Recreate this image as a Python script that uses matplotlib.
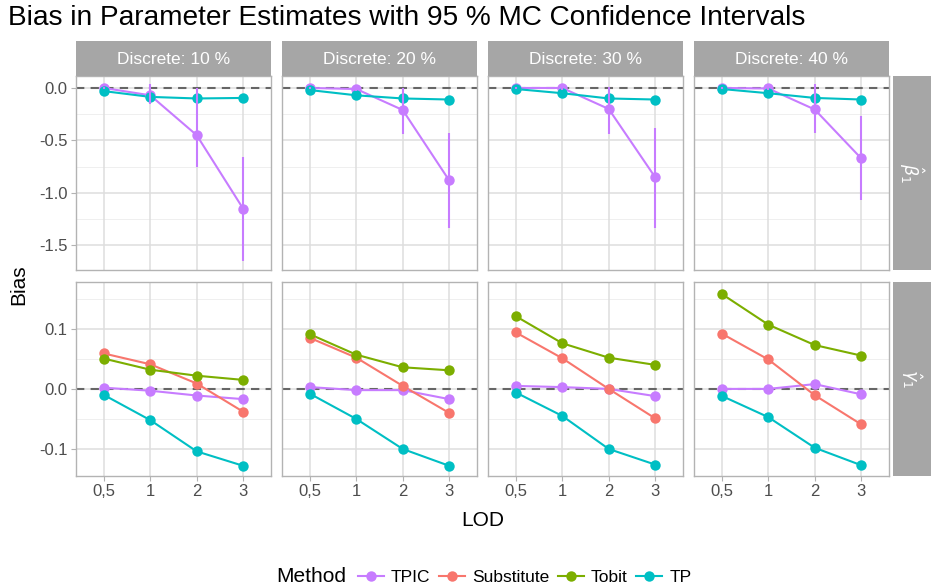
import matplotlib
matplotlib.use("Agg")
import matplotlib.pyplot as plt
import numpy as np
from matplotlib.lines import Line2D
from matplotlib.offsetbox import HPacker

plt.rcParams['font.family'] = ['Liberation Sans', 'DejaVu Sans']

lod_labels = ["0,5", "1", "2", "3"]
facets = ["Discrete: 10 %", "Discrete: 20 %", "Discrete: 30 %", "Discrete: 40 %"]
methods = ["TPIC", "Substitute", "Tobit", "TP"]
colors = {"TPIC": "#C77CFF", "Substitute": "#F8766D", "Tobit": "#7CAE00", "TP": "#00BFC4"}

# beta_1 row: only TPIC and TP
beta_TPIC = [[0.00, -0.07, -0.45, -1.15],
             [0.00, -0.01, -0.21, -0.88],
             [0.00, 0.00, -0.20, -0.85],
             [0.00, -0.005, -0.205, -0.67]]
beta_TPIC_lo = [[-0.01, -0.15, -0.75, -1.65],
                [-0.01, -0.03, -0.44, -1.33],
                [-0.01, -0.02, -0.44, -1.33],
                [-0.01, -0.02, -0.43, -1.07]]
beta_TPIC_hi = [[0.01, 0.04, 0.00, -0.66],
                [0.01, 0.01, 0.00, -0.43],
                [0.01, 0.02, 0.01, -0.38],
                [0.01, 0.01, 0.04, -0.27]]
beta_TP = [[-0.03, -0.085, -0.10, -0.095],
           [-0.02, -0.07, -0.10, -0.11],
           [-0.01, -0.05, -0.10, -0.11],
           [-0.01, -0.05, -0.095, -0.11]]

# gamma_1 row
gamma_TPIC = [[0.002, -0.003, -0.011, -0.017],
              [0.003, -0.002, -0.002, -0.017],
              [0.005, 0.003, 0.000, -0.012],
              [0.000, 0.000, 0.008, -0.009]]
gamma_Sub = [[0.059, 0.041, 0.009, -0.038],
             [0.085, 0.052, 0.005, -0.040],
             [0.094, 0.051, 0.000, -0.049],
             [0.092, 0.049, -0.0105, -0.059]]
gamma_Tobit = [[0.0505, 0.032, 0.022, 0.015],
               [0.091, 0.057, 0.036, 0.031],
               [0.121, 0.076, 0.052, 0.040],
               [0.158, 0.107, 0.073, 0.0555]]
gamma_TP = [[-0.010, -0.052, -0.104, -0.128],
            [-0.008, -0.050, -0.100, -0.128],
            [-0.006, -0.045, -0.100, -0.126],
            [-0.0117, -0.047, -0.098, -0.127]]

W, H = 931, 588
fig = plt.figure(figsize=(W / 100, H / 100), dpi=100)

def px(x0, y0, x1, y1):
    return [x0 / W, 1 - y1 / H, (x1 - x0) / W, (y1 - y0) / H]

col_x = [(76, 271), (282, 477), (488, 683), (694, 889)]
row_y = [(76, 270), (282, 476)]
strip_top = (41, 76)
strip_right = (892.5, 931)
grey_strip = "#A6A6A6"

x = np.arange(1, 5)
ylims = [(-1.734, 0.114), (-0.145, 0.178)]
yticks_major = [[0.0, -0.5, -1.0, -1.5], [0.1, 0.0, -0.1]]
yticks_minor = [[-0.25, -0.75, -1.25], [0.15, 0.05, -0.05]]
ytick_labels = [["0.0", "-0.5", "-1.0", "-1.5"], ["0.1", "0.0", "-0.1"]]

lw = 1.5
ms = 7.5

for r in range(2):
    for c in range(4):
        x0, x1 = col_x[c]
        y0, y1 = row_y[r]
        ax = fig.add_axes(px(x0, y0, x1, y1))
        ax.set_xlim(0.4, 4.6)
        ax.set_ylim(*ylims[r])
        ax.set_facecolor("white")
        for s in ax.spines.values():
            s.set_color("#B3B3B3")
            s.set_linewidth(1.0)
        for yv in yticks_minor[r]:
            ax.axhline(yv, color="#EDEDED", lw=0.6, zorder=0)
        for yv in yticks_major[r]:
            ax.axhline(yv, color="#DEDEDE", lw=1.1, zorder=0)
        for xv in x:
            ax.axvline(xv, color="#DEDEDE", lw=1.1, zorder=0)
        ax.axhline(0, color="#666666", lw=1.5, ls=(0, (4, 3)), zorder=1)

        if r == 0:
            series = [("TPIC", beta_TPIC[c]), ("TP", beta_TP[c])]
        else:
            series = [("TPIC", gamma_TPIC[c]), ("Substitute", gamma_Sub[c]),
                      ("Tobit", gamma_Tobit[c]), ("TP", gamma_TP[c])]
        for name, vals in series:
            ax.plot(x, vals, color=colors[name], lw=lw, zorder=2)
        for name, vals in series:
            ax.plot(x, vals, 'o', color=colors[name], ms=ms, mew=0, zorder=3)
        if r == 0:
            ax.vlines(x, beta_TPIC_lo[c], beta_TPIC_hi[c], color=colors["TPIC"], lw=lw, zorder=4)

        ax.set_xticks(x)
        ax.tick_params(axis='both', colors="#B3B3B3", length=3.5, width=0.8,
                       labelcolor="#4D4D4D", labelsize=12, pad=2.5)
        if r == 1:
            ax.set_xticklabels(lod_labels)
        else:
            ax.set_xticklabels([])
            ax.tick_params(axis='x', length=0)
        if c == 0:
            ax.set_yticks(yticks_major[r])
            ax.set_yticklabels(ytick_labels[r])
        else:
            ax.set_yticks([])
            ax.tick_params(axis='y', length=0)

        if r == 0:
            sa = fig.add_axes(px(x0, strip_top[0], x1, strip_top[1]))
            sa.set_facecolor(grey_strip)
            sa.set_xticks([]); sa.set_yticks([])
            for s in sa.spines.values():
                s.set_visible(False)
            sa.text(0.5, 0.47, facets[c], color="white", fontsize=12.5,
                    ha="center", va="center", transform=sa.transAxes)
        if c == 3:
            sa = fig.add_axes(px(strip_right[0], y0, strip_right[1], y1))
            sa.set_facecolor(grey_strip)
            sa.set_xticks([]); sa.set_yticks([])
            for s in sa.spines.values():
                s.set_visible(False)
            lab = r"$\hat{\beta}_1$" if r == 0 else r"$\hat{\gamma}_1$"
            sa.text(0.5, 0.5, lab, color="white", fontsize=12.5, rotation=-90,
                    ha="center", va="center", transform=sa.transAxes)

fig.text(8 / W, 1 - 18 / H, "Bias in Parameter Estimates with 95 % MC Confidence Intervals",
         fontsize=20.2, ha="left", va="center", color="black")
fig.text(19 / W, 1 - 285 / H, "Bias", fontsize=15, rotation=90, ha="center", va="center")
fig.text(483 / W, 1 - 521 / H, "LOD", fontsize=15, ha="center", va="center")

handles = [Line2D([0], [0], color=colors[m], lw=lw, marker='o', ms=ms, mew=0) for m in methods]
leg = fig.legend(handles, methods, loc="center", bbox_to_anchor=(484 / W, 1 - 577 / H),
                 ncol=4, frameon=False, fontsize=12.5, title="Method", title_fontsize=15,
                 handlelength=1.5, handletextpad=0.4, columnspacing=0.5, borderpad=0)
title_box = leg._legend_title_box
handle_box = leg._legend_handle_box
new = HPacker(pad=0, sep=8, align="center", children=[title_box, handle_box])
leg._legend_box._children = [new]

fig.savefig("out.png", dpi=100, facecolor="white")
